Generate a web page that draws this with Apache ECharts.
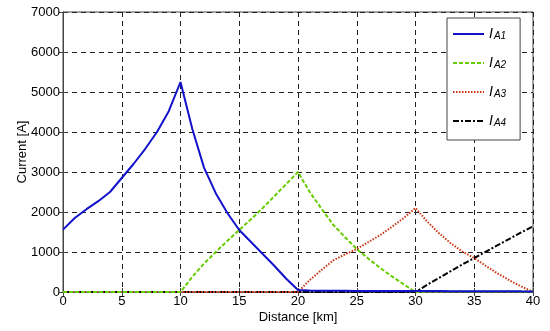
<!DOCTYPE html>
<html><head><meta charset="utf-8">
<script src="https://cdn.jsdelivr.net/npm/echarts@6/dist/echarts.min.js"></script>
<style>html,body{margin:0;padding:0;background:#fff}#c{width:550px;height:331px}</style>
</head><body><div id="c"></div>
<script>
const distanceKm = [0,1,2,3,4,5,6,7,8,9,10,11,12,13,14,15,16,17,18,19,20,21,22,23,24,25,26,27,28,29,30,31,32,33,34,35,36,37,38,39,40];
const IA1 = [1560,1850,2070,2270,2500,2850,3200,3580,4000,4520,5250,4080,3110,2470,1970,1550,1250,950,650,330,50,35,32,30,30,28,28,26,25,25,24,22,22,20,20,20,18,18,18,16,15];
const IA2 = [0,0,0,0,0,0,0,0,0,0,0,380,710,1000,1280,1550,1820,2100,2400,2700,3000,2500,2080,1680,1370,1075,830,600,390,190,0,15,15,15,15,15,15,15,15,15,15];
const IA3 = [0,0,0,0,0,0,0,0,0,0,0,0,0,0,0,0,0,0,0,0,0,300,550,790,940,1075,1250,1425,1630,1850,2100,1760,1470,1220,1010,850,650,460,290,140,0];
const IA4 = [0,0,0,0,0,0,0,0,0,0,0,0,0,0,0,0,0,0,0,0,0,0,0,0,0,0,0,0,0,0,0,180,350,520,690,850,1010,1170,1330,1490,1640];
const seriesNames = ['A1','A2','A3','A4'];
const xTicks = {min:0, max:40, interval:5};
const yTicks = {min:0, max:7000, interval:1000};

const pair = arr => arr.map((v,i)=>[distanceKm[i], v]);
const font = '"Liberation Sans", Arial, sans-serif';
const styles = [
  {color:'#1212cc', type:'solid'},
  {color:'#66cc00', type:[4,2]},
  {color:'#cc3311', type:[1.5,1.5]},
  {color:'#000000', type:[6,2,2,2]}
];
const dataSets = [IA1, IA2, IA3, IA4];
const chart = echarts.init(document.getElementById('c'));
const gridDash = {color:'#222', type:[5,4], width:1};
chart.setOption({
  animation:false,
  backgroundColor:'#fff',
  textStyle:{fontFamily:font},
  grid:{left:63, right:17, top:12, bottom:39, show:true, borderColor:'#444', borderWidth:1, outerBoundsMode:'none', containLabel:false},
  legend:{
    orient:'vertical', left:447, top:18,
    padding:[5,14,7,5],
    itemWidth:31, itemHeight:14, itemGap:6,
    borderColor:'#444', borderWidth:1, backgroundColor:'#fff',
    itemStyle:{color:'rgba(0,0,0,0)', borderWidth:0, opacity:0},
    data:seriesNames.map(n=>'I'+n),
    formatter: name => '{i|I}{s|' + name.slice(1) + '}',
    textStyle:{
      rich:{
        i:{fontFamily:font, fontStyle:'italic', fontSize:14, color:'#000', lineHeight:14, verticalAlign:'top', padding:[0,0,5,0]},
        s:{fontFamily:font, fontStyle:'italic', fontSize:10, color:'#000', lineHeight:14, verticalAlign:'bottom', padding:[8,0,0,1]}
      }
    }
  },
  xAxis:[{
    type:'value', min:xTicks.min, max:xTicks.max, interval:xTicks.interval,
    name:'Distance [km]', nameLocation:'middle', nameGap:19,
    nameTextStyle:{fontFamily:font, fontSize:13, color:'#000'},
    nameMoveOverlap:false,
    axisLine:{show:true, lineStyle:{color:'#444'}},
    axisTick:{show:true, inside:true, length:4, lineStyle:{color:'#444'}},
    axisLabel:{fontFamily:font, fontSize:13, color:'#000', margin:3},
    splitLine:{show:true, lineStyle:gridDash}
  },{
    type:'value', position:'top', min:xTicks.min, max:xTicks.max, interval:xTicks.interval,
    axisLine:{show:true, lineStyle:{color:'#444'}},
    axisTick:{show:true, inside:true, length:4, lineStyle:{color:'#444'}},
    axisLabel:{show:false}, splitLine:{show:false}
  }],
  yAxis:[{
    type:'value', min:yTicks.min, max:yTicks.max, interval:yTicks.interval,
    name:'Current [A]', nameLocation:'middle', nameGap:34,
    nameMoveOverlap:false,
    nameTextStyle:{fontFamily:font, fontSize:13, color:'#000'},
    axisLine:{show:true, lineStyle:{color:'#444'}},
    axisTick:{show:true, inside:true, length:4, lineStyle:{color:'#444'}},
    axisLabel:{fontFamily:font, fontSize:13, color:'#000', margin:3, formatter: v => String(v)},
    splitLine:{show:true, lineStyle:gridDash}
  },{
    type:'value', position:'right', min:yTicks.min, max:yTicks.max, interval:yTicks.interval,
    axisLine:{show:true, lineStyle:{color:'#444'}},
    axisTick:{show:true, inside:true, length:4, lineStyle:{color:'#444'}},
    axisLabel:{show:false}, splitLine:{show:false}
  }],
  series: seriesNames.map((n,k)=>({
    name:'I'+n, type:'line', data:pair(dataSets[k]),
    showSymbol:false, symbol:'none', smooth:false,
    color:styles[k].color,
    lineStyle:{color:styles[k].color, width:2, type:styles[k].type},
    z:10-k
  }))
});
</script></body></html>
